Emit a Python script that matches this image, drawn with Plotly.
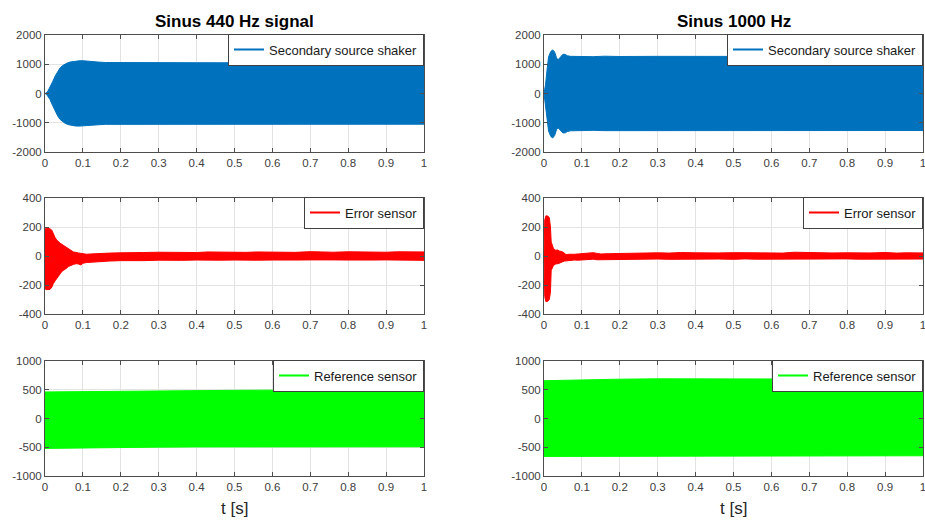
import plotly.graph_objects as go

# ---------------- data (envelopes) ----------------
titles = ["Sinus 440 Hz signal", "Sinus 1000 Hz"]
legend_names = ["Secondary source shaker", "Error sensor", "Reference sensor"]
x_label = "t [s]"

x_tickvals = [0, 0.1, 0.2, 0.3, 0.4, 0.5, 0.6, 0.7, 0.8, 0.9, 1]
x_ticktext = ["0", "0.1", "0.2", "0.3", "0.4", "0.5", "0.6", "0.7", "0.8", "0.9", "1"]

y_ticks_shaker = [-2000, -1000, 0, 1000, 2000]
y_ticks_error = [-400, -200, 0, 200, 400]
y_ticks_ref = [-1000, -500, 0, 500, 1000]

# Panel 1: secondary source shaker, 440 Hz
t_sh440 = [0, 0.004, 0.008, 0.013, 0.02, 0.027, 0.034, 0.04, 0.047, 0.053, 0.06, 0.066,
           0.073, 0.08, 0.09, 0.1, 0.11, 0.12, 0.14, 0.16, 0.2, 0.3, 0.4, 0.5, 0.6,
           0.7, 0.8, 0.9, 1.0]
up_sh440 = [0, 30, 90, 200, 400, 600, 770, 880, 960, 1010, 1050, 1075,
            1095, 1110, 1118, 1120, 1115, 1100, 1075, 1060, 1055, 1050, 1052, 1050, 1052,
            1050, 1052, 1050, 1052]
lo_sh440 = [0, -30, -90, -200, -410, -610, -780, -890, -970, -1020, -1060, -1085,
            -1100, -1110, -1115, -1115, -1110, -1095, -1070, -1055, -1050, -1048, -1050,
            -1048, -1050, -1048, -1050, -1048, -1050]

# Panel 2: secondary source shaker, 1000 Hz
t_sh1000 = [0, 0.004, 0.008, 0.012, 0.018, 0.023, 0.028, 0.033, 0.037, 0.043, 0.05,
            0.056, 0.062, 0.07, 0.08, 0.1, 0.13, 0.16, 0.2, 0.3, 0.4, 0.5, 0.6, 0.7,
            0.8, 0.9, 1.0]
up_sh1000 = [0, 300, 800, 1250, 1440, 1490, 1420, 1220, 1150, 1250, 1340,
             1335, 1290, 1270, 1265, 1270, 1260, 1275, 1265, 1270, 1265, 1270, 1265,
             1270, 1265, 1268, 1265]
lo_sh1000 = [0, -300, -820, -1280, -1470, -1520, -1440, -1240, -1170, -1270, -1350,
             -1345, -1300, -1275, -1265, -1270, -1260, -1270, -1265, -1268, -1265,
             -1268, -1265, -1268, -1265, -1268, -1265]

# Panel 3: error sensor, 440 Hz
t_er440 = [0, 0.003, 0.008, 0.013, 0.018, 0.022, 0.027, 0.031, 0.035, 0.04, 0.045,
           0.049, 0.055, 0.062, 0.068, 0.075, 0.082, 0.088, 0.095, 0.1, 0.11, 0.12,
           0.135, 0.15, 0.17, 0.2, 0.23, 0.26, 0.3, 0.33, 0.36, 0.4, 0.43, 0.46, 0.5,
           0.53, 0.56, 0.6, 0.63, 0.66, 0.7, 0.73, 0.76, 0.8, 0.83, 0.86, 0.9, 0.93,
           0.96, 1.0]
up_er440 = [185, 192, 190, 188, 178, 150, 125, 110, 97, 88, 80,
            74, 62, 51, 40, 28, 22, 21, 18, 16, 12, 14,
            17, 18, 20, 22, 25, 24, 26, 25, 27, 24, 28, 26, 27,
            25, 28, 26, 27, 25, 30, 27, 26, 29, 27, 28, 26, 29,
            27, 28]
lo_er440 = [-225, -232, -230, -231, -215, -190, -170, -153, -138, -123, -105,
            -95, -88, -72, -65, -58, -53, -55, -62, -50, -45, -42,
            -39, -38, -35, -32, -30, -32, -29, -28, -30, -28, -27, -29, -28,
            -27, -29, -28, -26, -28, -27, -29, -27, -28, -26, -28, -27, -29,
            -27, -30]

# Panel 4: error sensor, 1000 Hz
t_er1000 = [0, 0.002, 0.005, 0.01, 0.014, 0.017, 0.019, 0.022, 0.025, 0.031, 0.036,
            0.04, 0.044, 0.049, 0.054, 0.058, 0.065, 0.071, 0.08, 0.09, 0.1, 0.11,
            0.12, 0.13, 0.14, 0.15, 0.17, 0.2, 0.23, 0.26, 0.3, 0.33, 0.36, 0.4, 0.43,
            0.46, 0.5, 0.53, 0.56, 0.6, 0.63, 0.66, 0.7, 0.73, 0.76, 0.8, 0.83, 0.86,
            0.9, 0.93, 0.96, 1.0]
up_er1000 = [0, 250, 277, 275, 265, 200, 97, 70, 51, 39, 42,
             35, 33, 28, 20, 9, 12, 14, 12, 14, 16, 15,
             18, 23, 18, 14, 16, 18, 20, 19, 22, 20, 24, 22, 20,
             21, 23, 20, 22, 21, 20, 26, 22, 20, 21, 22, 20, 21,
             24, 20, 22, 21]
lo_er1000 = [0, -280, -315, -312, -300, -250, -100, -80, -65, -55, -53,
             -50, -49, -40, -35, -30, -30, -30, -28, -29, -30, -28,
             -25, -22, -26, -30, -25, -24, -22, -23, -21, -23, -22, -20, -22,
             -21, -23, -20, -22, -21, -23, -22, -20, -22, -21, -20, -22, -21,
             -23, -20, -22, -21]

# Panel 5: reference sensor, 440 Hz
t_rf440 = [0, 0.1, 0.2, 0.3, 0.4, 0.5, 0.6, 0.7, 0.8, 0.9, 1.0]
up_rf440 = [462, 470, 478, 483, 487, 490, 493, 495, 498, 500, 503]
lo_rf440 = [-520, -510, -503, -498, -494, -491, -490, -490, -490, -491, -492]

# Panel 6: reference sensor, 1000 Hz
t_rf1000 = [0, 0.1, 0.2, 0.3, 0.4, 0.5, 0.6, 0.7, 0.8, 0.9, 1.0]
up_rf1000 = [657, 674, 684, 690, 692, 691, 690, 687, 684, 682, 680]
lo_rf1000 = [-660, -655, -650, -648, -647, -647, -648, -648, -648, -648, -648]

# ---------------- styling ----------------
BLUE = "#0072BD"
RED = "#FF0000"
GREEN = "#00FF00"
FONT = "Liberation Sans, Arial, Helvetica, sans-serif"
AXIS_COL = "#4d4d4d"
GRID_COL = "#e3e3e3"

W, H = 925, 521


def fx(px):
    return px / W


def fy(px):
    return 1 - px / H


col_dom = [[fx(45), fx(424)], [fx(544), fx(923)]]
row_px = [(35, 152), (198, 314), (361, 476)]
row_dom = [[fy(b), fy(t)] for (t, b) in row_px]

panels = [
    (0, 0, t_sh440, up_sh440, lo_sh440, BLUE, legend_names[0], y_ticks_shaker),
    (0, 1, t_sh1000, up_sh1000, lo_sh1000, BLUE, legend_names[0], y_ticks_shaker),
    (1, 0, t_er440, up_er440, lo_er440, RED, legend_names[1], y_ticks_error),
    (1, 1, t_er1000, up_er1000, lo_er1000, RED, legend_names[1], y_ticks_error),
    (2, 0, t_rf440, up_rf440, lo_rf440, GREEN, legend_names[2], y_ticks_ref),
    (2, 1, t_rf1000, up_rf1000, lo_rf1000, GREEN, legend_names[2], y_ticks_ref),
]

fig = go.Figure()
layout = dict(
    template="none",
    width=W, height=H,
    margin=dict(l=0, r=0, t=0, b=0, autoexpand=False),
    paper_bgcolor="white", plot_bgcolor="white",
    font=dict(family=FONT, size=11, color="#262626"),
    showlegend=True,
    annotations=[],
)

for i, (r, c, t, up, lo, colr, name, yt) in enumerate(panels, start=1):
    sfx = "" if i == 1 else str(i)
    xa, ya = "x" + sfx, "y" + sfx
    leg = "legend" + sfx
    # filled envelope of the dense oscillation
    fig.add_trace(go.Scatter(
        x=list(t) + list(t)[::-1], y=list(up) + list(lo)[::-1],
        mode="lines", fill="toself", fillcolor=colr,
        line=dict(color=colr, width=1), hoverinfo="skip",
        showlegend=False, xaxis=xa, yaxis=ya))
    # legend entry (line sample)
    fig.add_trace(go.Scatter(
        x=[None], y=[None], mode="lines", name=name,
        line=dict(color=colr, width=2), showlegend=True,
        legend=leg, xaxis=xa, yaxis=ya))

    axis_common = dict(
        showline=True, linecolor=AXIS_COL, linewidth=1, mirror="ticks",
        ticks="inside", ticklen=4, tickcolor=AXIS_COL, tickwidth=1,
        showgrid=True, gridcolor=GRID_COL, gridwidth=1, zeroline=False,
        tickfont=dict(family=FONT, size=11.5, color="#404040"),
        fixedrange=True, automargin=False, ticklabeloverflow="allow",
    )
    layout["xaxis" + sfx] = dict(
        axis_common, domain=col_dom[c], anchor=ya, range=[0, 1],
        tickmode="array", tickvals=x_tickvals, ticktext=x_ticktext,
    )
    layout["yaxis" + sfx] = dict(
        axis_common, domain=row_dom[r], anchor=xa, range=[yt[0], yt[-1]],
        tickmode="array", tickvals=yt, ticktext=[str(v) for v in yt],
    )
    layout[leg] = dict(
        x=col_dom[c][1], y=row_dom[r][1] + 1.5 / H, xanchor="right", yanchor="top",
        xref="paper", yref="paper",
        bgcolor="white", bordercolor="#404040", borderwidth=1,
        font=dict(family=FONT, size=13, color="#1a1a1a"),
        itemwidth=30, tracegroupgap=0,
    )

for c, title in enumerate(titles):
    xc = (col_dom[c][0] + col_dom[c][1]) / 2
    layout["annotations"].append(dict(
        text="<b>%s</b>" % title, x=xc, y=fy(21), xref="paper", yref="paper",
        xanchor="center", yanchor="middle", showarrow=False,
        font=dict(family=FONT, size=17, color="black")))
    layout["annotations"].append(dict(
        text=x_label, x=xc, y=fy(508), xref="paper", yref="paper",
        xanchor="center", yanchor="middle", showarrow=False,
        font=dict(family=FONT, size=17, color="#262626")))

fig.update_layout(**layout)
fig.write_html(
    "out.html",
    config={"displayModeBar": False, "staticPlot": True},
    post_script="document.body.style.margin='0';document.body.style.overflow='hidden';",
)
